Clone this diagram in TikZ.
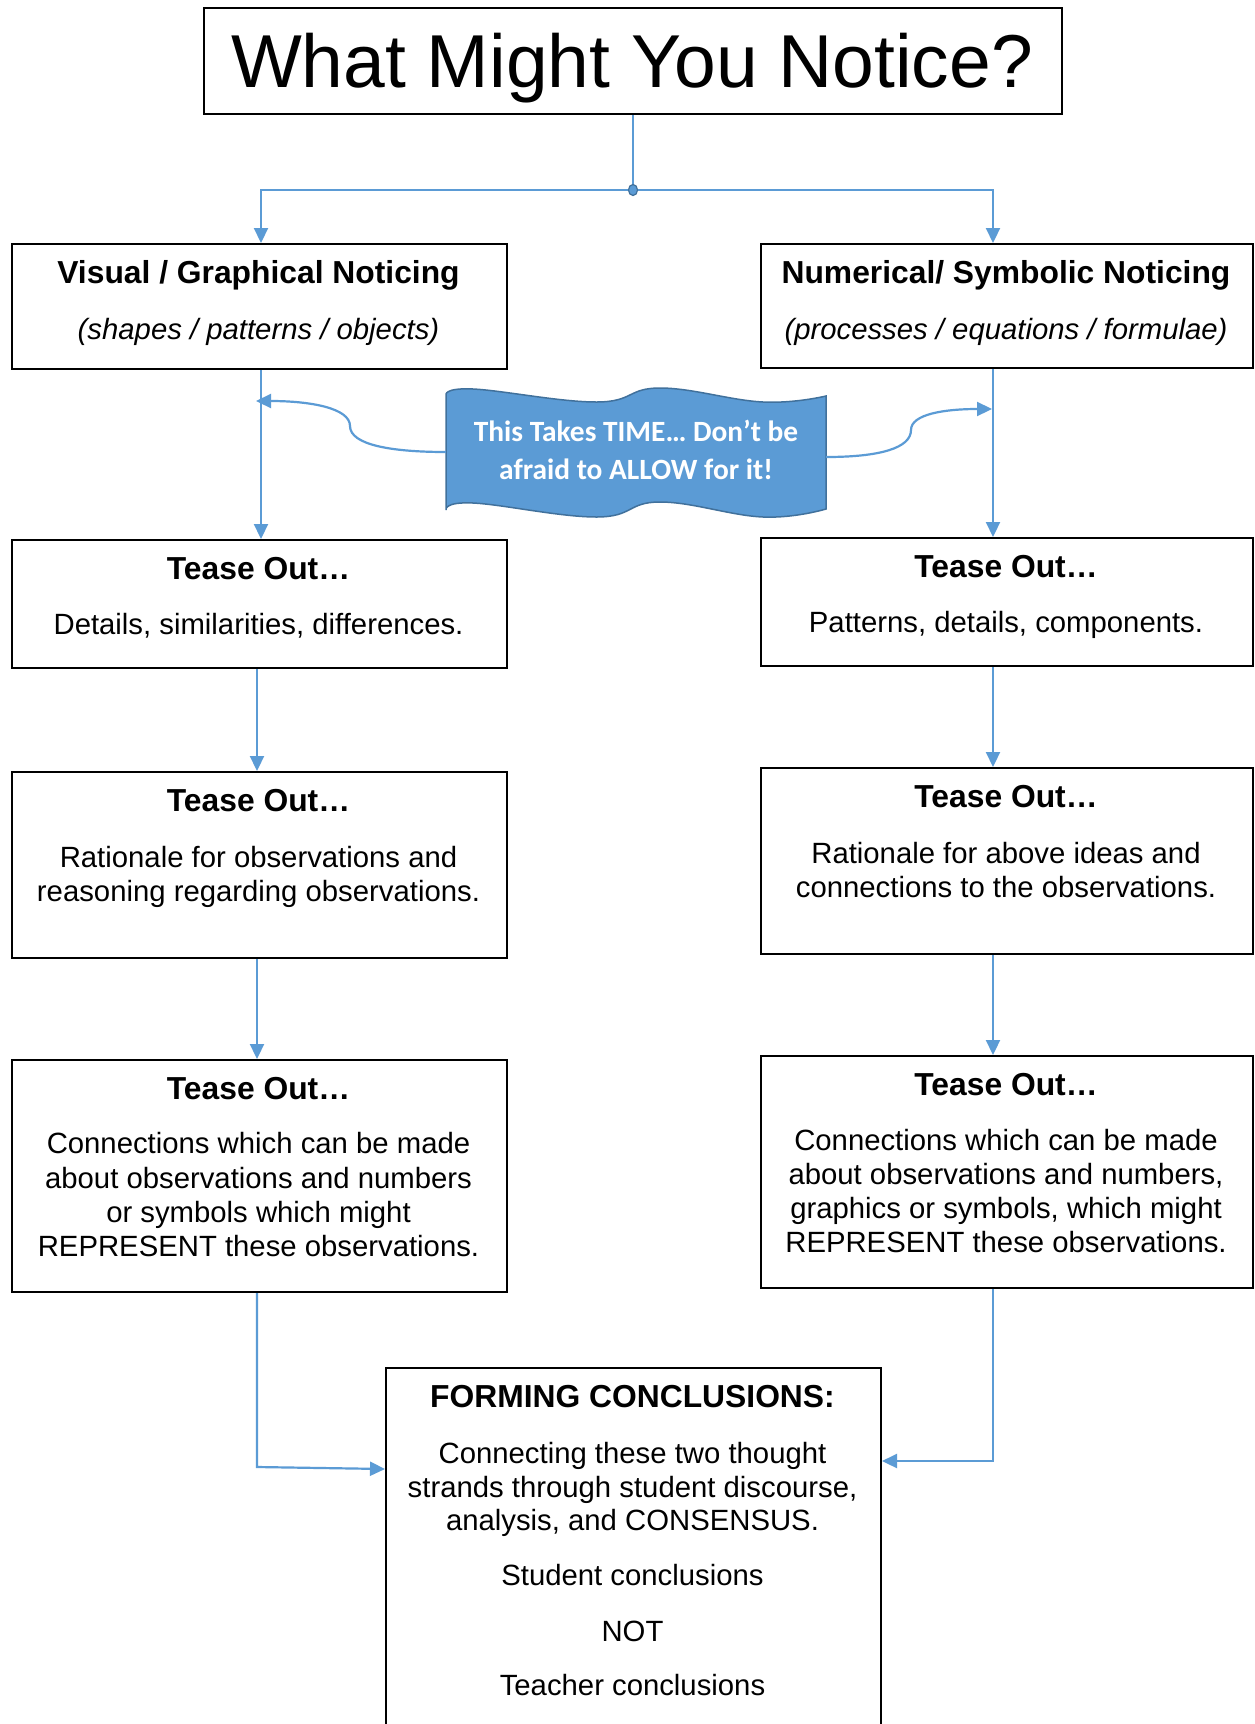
\documentclass[tikz,border=0pt]{standalone}
\usepackage{fontspec}
\setmainfont{Liberation Sans}
\newfontfamily\calib{Carlito}
\usetikzlibrary{arrows.meta,calc}
\definecolor{cblue}{HTML}{5B9BD5}
\definecolor{cdark}{HTML}{41719C}
\begin{document}
\begin{tikzpicture}[x=1pt,y=-1pt,
 box/.style={draw=black,line width=2pt,anchor=north west,inner sep=0pt},
 conn/.style={draw=cblue,line width=2.2pt},
 arr/.style={conn,-{Triangle[length=15pt,width=14pt]}},
 ttl/.style={font=\fontsize{75}{88}\selectfont,anchor=base,inner sep=0pt},
 head/.style={font=\fontsize{31.8}{38}\selectfont\bfseries,anchor=base,inner sep=0pt},
 body/.style={font=\fontsize{29.3}{34}\selectfont,anchor=base,inner sep=0pt},
 ital/.style={font=\fontsize{29.3}{34}\selectfont\itshape,anchor=base,inner sep=0pt},
 ban/.style={font=\calib\bfseries\fontsize{29.4}{38}\selectfont,text=white,anchor=base,inner sep=0pt},
]
\useasboundingbox (0,0) rectangle (1254,1724);
\fill[white] (0,0) rectangle (1254,1724);

% boxes
\node[box,minimum width=858pt,minimum height=106pt] (title) at (203,7) {};
\node[box,minimum width=495pt,minimum height=125pt] (vis) at (11,243) {};
\node[box,minimum width=492pt,minimum height=124pt] (num) at (760,243) {};
\node[box,minimum width=495pt,minimum height=128pt] (L2) at (11,539) {};
\node[box,minimum width=492pt,minimum height=128pt] (R2) at (760,537) {};
\node[box,minimum width=495pt,minimum height=186pt] (L3) at (11,771) {};
\node[box,minimum width=492pt,minimum height=186pt] (R3) at (760,767) {};
\node[box,minimum width=495pt,minimum height=232pt] (L4) at (11,1059) {};
\node[box,minimum width=492pt,minimum height=232pt] (R4) at (760,1055) {};
\node[box,minimum width=495pt,minimum height=380pt] (conc) at (385,1367) {};

% texts
\node[ttl] (t1) at (632,87) {What Might You Notice?};

\node[head] (vish) at (258.5,283) {Visual / Graphical Noticing};
\node[ital] (visi) at (258.5,339) {(shapes / patterns / objects)};
\node[head] (numh) at (1006,283) {Numerical/ Symbolic Noticing};
\node[ital] (numi) at (1006,339) {(processes / equations / formulae)};

\node[head] (L2h) at (258.5,579) {Tease Out…};
\node[body] (L2a) at (258.5,634) {Details, similarities, differences.};
\node[head] (R2h) at (1006,577) {Tease Out…};
\node[body] (R2a) at (1006,632) {Patterns, details, components.};

\node[head] (L3h) at (258.5,811) {Tease Out…};
\node[body] (L3a) at (258.5,867) {Rationale for observations and};
\node[body] (L3b) at (258.5,901) {reasoning regarding observations.};
\node[head] (R3h) at (1006,807) {Tease Out…};
\node[body] (R3a) at (1006,863) {Rationale for above ideas and};
\node[body] (R3b) at (1006,897) {connections to the observations.};

\node[head] (L4h) at (258.5,1099) {Tease Out…};
\node[body] (L4a) at (258.5,1153) {Connections which can be made};
\node[body] (L4b) at (258.5,1188) {about observations and numbers};
\node[body] (L4c) at (258.5,1222) {or symbols which might};
\node[body] (L4d) at (258.5,1256) {REPRESENT these observations.};
\node[head] (R4h) at (1006,1095) {Tease Out…};
\node[body] (R4a) at (1006,1150) {Connections which can be made};
\node[body] (R4b) at (1006,1184) {about observations and numbers,};
\node[body] (R4c) at (1006,1218) {graphics or symbols, which might};
\node[body] (R4d) at (1006,1252) {REPRESENT these observations.};

\node[head] (ch) at (632.5,1407) {FORMING CONCLUSIONS:};
\node[body] (ca) at (632.5,1463) {Connecting these two thought};
\node[body] (cb) at (632.5,1497) {strands through student discourse,};
\node[body] (cc) at (632.5,1530) {analysis, and CONSENSUS.};
\node[body] (cd) at (632.5,1585) {Student conclusions};
\node[body] (ce) at (632.5,1641) {NOT};
\node[body] (cf) at (632.5,1695) {Teacher conclusions};

% banner
\fill[cblue,draw=cdark,line width=1.5pt]
  plot[smooth,tension=0.7] coordinates {(446,395)(473,389)(597,402)(660,388)(763,402)(826,396)}
  -- plot[smooth,tension=0.7] coordinates {(826,509)(763,517)(660,502)(597,517)(473,503)(446,510)}
  -- cycle;
\node[minimum width=380pt,minimum height=115pt,inner sep=0pt] (banner) at (636,452) {};
\node[ban] (b1) at (636,441) {This Takes TIME… Don’t be};
\node[ban] (b2) at (636,479) {afraid to ALLOW for it!};

% connectors
\coordinate (j) at (633,190);
\coordinate (lx) at (261,0);
\coordinate (lx2) at (257,0);
\coordinate (rx) at (993,0);
\draw[conn] (title.south -| j) -- (j);
\draw[arr] (j) -| (vis.north -| lx);
\draw[arr] (j) -| (num.north -| rx);
\fill[cblue,draw=cdark,line width=1.2pt] (j) ellipse (4.5 and 5.5);

\draw[arr] (vis.south -| lx) -- (L2.north -| lx);
\draw[arr] (L2.south -| lx2) -- (L3.north -| lx2);
\draw[arr] (L3.south -| lx2) -- (L4.north -| lx2);
\draw[arr] (num.south -| rx) -- (R2.north -| rx);
\draw[arr] (R2.south -| rx) -- (R3.north -| rx);
\draw[arr] (R3.south -| rx) -- (R4.north -| rx);

\draw[arr] (L4.south -| lx2) -- (257,1467) -- (conc.west |- 0,1469);
\draw[arr] (R4.south -| rx) -- (993,1461) -- (conc.east |- 0,1461);

\draw[arr] (banner.west) .. controls (392,452) and (350,445) .. (350,426)
  .. controls (350,408) and (310,401) .. (256,401);
\draw[arr] ([yshift=-5pt]banner.east) .. controls (880,457) and (911,448) .. (911,430)
  .. controls (911,414) and (945,409) .. (992,409);
\end{tikzpicture}
\end{document}
